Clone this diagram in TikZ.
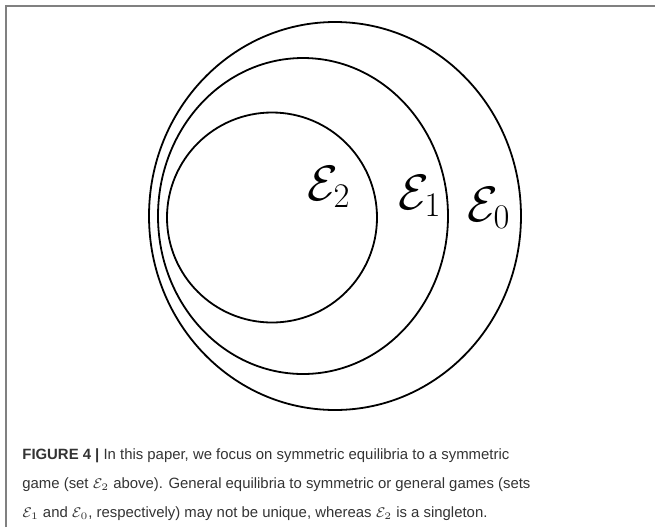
\documentclass[tikz,border=0pt]{standalone}
\usepackage{amsmath}
\usepackage[no-math]{fontspec}
\setmainfont{Liberation Sans}
\usetikzlibrary{shapes.geometric}

\begin{document}
\begin{tikzpicture}[x=0.5pt,y=-0.5pt,
  region/.style={draw=black,line width=0.9pt,inner sep=0pt,outer sep=0pt},
  setlabel/.style={font=\fontsize{23}{28}\selectfont,inner sep=0pt},
  capline/.style={anchor=base west,inner sep=0pt,text=black!80,font=\fontsize{7.45}{14.6}\selectfont}]
\useasboundingbox (0,0) rectangle (655,527);
\draw[gray,line width=1pt] (6,527) -- (6,6) -- (655,6);
% nested sets
\node[shape=ellipse,region,minimum width=186pt,minimum height=194pt] (E0) at (335,216) {};
\node[shape=ellipse,region,minimum width=145pt,minimum height=158pt] (E1) at (303,216) {};
\node[shape=circle,region,minimum size=105pt] (E2) at (272,217.5) {};
\node[setlabel] (L2) at (329,187) {$\mathcal{E}_2$};
\node[setlabel] (L1) at (420,196) {$\mathcal{E}_1$};
\node[setlabel] (L0) at (489,208) {$\mathcal{E}_0$};
% caption
\node[capline] (cap1) at (22,459) {\textbf{FIGURE 4 |} In this paper, we focus on symmetric equilibria to a symmetric};
\node[capline] (cap2) at (22,488) {game (set $\mathcal{E}_2$ above). General equilibria to symmetric or general games (sets};
\node[capline] (cap3) at (22,517) {$\mathcal{E}_1$ and $\mathcal{E}_0$, respectively) may not be unique, whereas $\mathcal{E}_2$ is a singleton.};
\end{tikzpicture}
\end{document}
